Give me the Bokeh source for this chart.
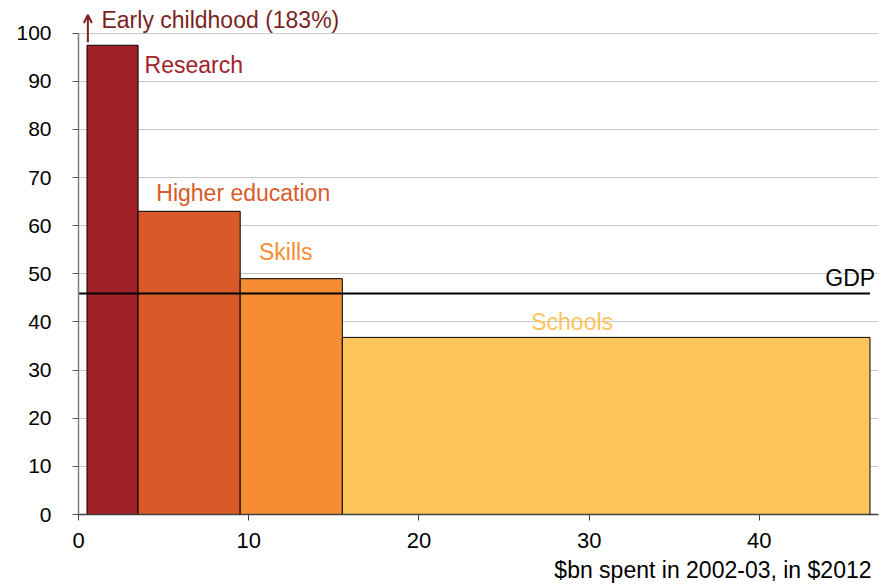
import numpy as np
from bokeh.plotting import figure
from bokeh.models import Range1d, FixedTicker, Label, Arrow, OpenHead, ColumnDataSource, Title
from bokeh.embed import file_html
from bokeh.resources import INLINE

# ---- data ----
categories = ["Early childhood", "Research", "Higher education", "Skills", "Schools"]
spend_bn = [0.5, 3.0, 6.0, 6.0, 31.0]          # $bn spent in 2002-03 (bar widths)
return_pct = [183.0, 97.5, 63.0, 49.0, 36.8]     # bar heights
bar_colors = ["#7B1F1F", "#A02128", "#D85A2B", "#F68D35", "#FFC45B"]
label_colors = ["#7B1F1F", "#A0222A", "#D95B2B", "#F68D35", "#FFC45B"]
gdp_value = 45.9
x_ticks = [0, 10, 20, 30, 40]
y_ticks = [0, 10, 20, 30, 40, 50, 60, 70, 80, 90, 100]
x_axis_title = "$bn spent in 2002-03, in $2012"

FONT = "Liberation Sans"

rights = np.cumsum(spend_bn)
lefts = rights - np.array(spend_bn)

p = figure(width=887, height=587, output_backend="svg", toolbar_location=None,
           x_range=Range1d(0, 47), y_range=Range1d(0, 106.8),
           min_border_left=78, min_border_right=9, min_border_top=0, min_border_bottom=73)
p.outline_line_color = None
p.background_fill_color = "white"
p.xgrid.visible = False
p.ygrid.grid_line_color = "#C8C8C8"
p.ygrid.grid_line_width = 1.2
p.ygrid.ticker = FixedTicker(ticks=y_ticks)

# bars (early childhood goes off the chart; shown with an arrow)
src = ColumnDataSource(dict(left=lefts[1:], right=rights[1:], top=return_pct[1:],
                            bottom=[0] * 4, color=bar_colors[1:]))
p.quad(left="left", right="right", top="top", bottom="bottom", fill_color="color",
       line_color="black", line_width=1, source=src)

# GDP line
p.line(x=[0, rights[-1]], y=[gdp_value, gdp_value], line_color="black", line_width=2)

# axes
p.xaxis.ticker = FixedTicker(ticks=x_ticks)
p.yaxis.ticker = FixedTicker(ticks=y_ticks)
p.yaxis.bounds = (0, 100)
for ax in (p.xaxis[0], p.yaxis[0]):
    ax.major_tick_in = 0
    ax.major_tick_out = 6
    ax.minor_tick_line_color = None
    ax.major_label_text_font = FONT
    ax.major_label_text_color = "black"
p.yaxis.axis_line_color = "#808080"
p.yaxis.axis_line_width = 1.5
p.yaxis.major_tick_line_color = "#555555"
p.yaxis.major_label_text_font_size = "21px"
p.yaxis.major_label_standoff = 21
p.xaxis.axis_line_color = "#404040"
p.xaxis.axis_line_width = 1.5
p.xaxis.major_tick_line_color = "#404040"
p.xaxis.major_label_text_font_size = "22px"
p.xaxis.major_label_standoff = 12

# x-axis title, right aligned below the axis
p.add_layout(Title(text=x_axis_title, align="right", text_font=FONT, text_font_size="23px",
                   text_font_style="normal", text_color="black", offset=7, standoff=8), "below")

# labels
def add_label(x, y, text, color, align="left"):
    p.add_layout(Label(x=x, y=y, text=text, text_color=color, text_font=FONT,
                       text_font_size="23px", text_align=align, text_baseline="middle"))

add_label(1.35, 102.8, f"{categories[0]} ({return_pct[0]:.0f}%)", label_colors[0])
add_label(3.88, 93.3, categories[1], label_colors[1])
add_label(4.57, 66.7, categories[2], label_colors[2])
add_label(10.6, 54.5, categories[3], label_colors[3])
add_label(29.0, 40.1, categories[4], label_colors[4], align="center")
add_label(46.8, 49.1, "GDP", "black", align="right")

p.add_layout(Arrow(x_start=rights[0] + 0.05, y_start=98.1, x_end=rights[0] + 0.05, y_end=103.8,
                   line_color=label_colors[0], line_width=2,
                   end=OpenHead(size=8, line_color=label_colors[0], line_width=2)))

open("out.html", "w").write(file_html(p, INLINE))
